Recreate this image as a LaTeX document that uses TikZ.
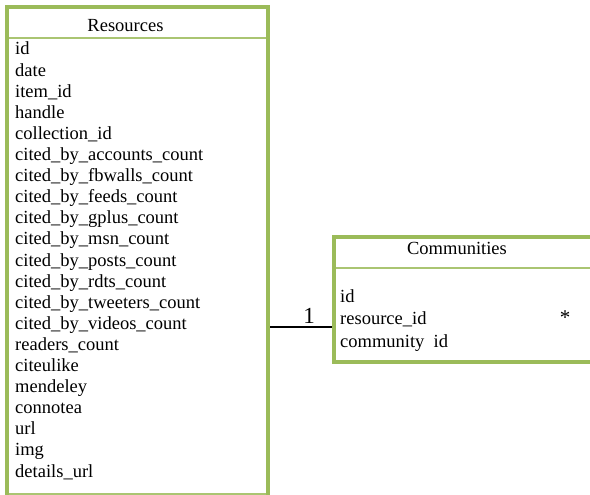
\documentclass[tikz,border=0pt]{standalone}
\usepackage{fontspec}
\setmainfont{Liberation Serif}
\definecolor{olivegreen}{HTML}{9BBB59}
\begin{document}
\begin{tikzpicture}[x=1pt, y=-1pt, font=\fontsize{18.5}{21.1}\selectfont,
  frame/.style={draw=olivegreen, line width=4pt},
  rule/.style={draw=olivegreen!85, line width=1.5pt},
  field/.style={anchor=base west, inner sep=0pt},
  title/.style={anchor=base, inner sep=0pt}]
\useasboundingbox (0,0) rectangle (590,495);
\clip (0,0) rectangle (590,495);

% Resources table
\draw[frame] (7,505)--(7,7)--(268,7)--(268,505);
\draw[rule] (9,38)--(266,38);
\draw[rule] (9,494)--(266,494);
\node[title] (restitle) at (125.5,32) {Resources};
\foreach \f [count=\i from 0] in {id, date, item\_id, handle, collection\_id,
  cited\_by\_accounts\_count, cited\_by\_fbwalls\_count, cited\_by\_feeds\_count,
  cited\_by\_gplus\_count, cited\_by\_msn\_count, cited\_by\_posts\_count,
  cited\_by\_rdts\_count, cited\_by\_tweeters\_count, cited\_by\_videos\_count,
  readers\_count, citeulike, mendeley, connotea, url, img, details\_url}
{
   \node[field] (res-\i) at (15, 55+21.1*\i) {\f};
}

% Communities table
\draw[frame] (600,237)--(334,237)--(334,362)--(600,362);
\draw[rule] (336,268)--(600,268);
\node[title] (comtitle) at (457,254) {Communities};
\node[field] (com-0) at (340,302) {id};
\node[field] (com-1) at (340,324) {resource\_id};
\node[field] (com-2) at (340,347) {community\ \ id};

% relation
\coordinate (resE) at (270,327);
\coordinate (comW) at (332,327);
\draw[line width=1.3pt] (resE)--(comW) node[pos=.63, above=3pt, inner sep=0pt, font=\fontsize{23}{26}\selectfont] (one) {1};
\node[title, font=\fontsize{21}{24}\selectfont] (many) at (565,324) {*};
\end{tikzpicture}
\end{document}
